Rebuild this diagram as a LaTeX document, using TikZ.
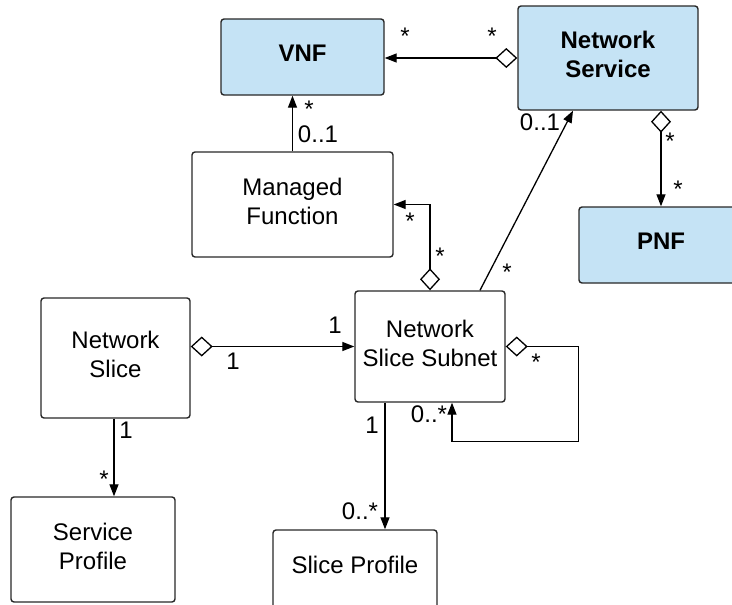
\documentclass[tikz,border=0pt]{standalone}
\usepackage{fontspec}
\setmainfont{Liberation Sans}
\usetikzlibrary{arrows.meta,calc}
\definecolor{boxblue}{RGB}{197,227,245}
\definecolor{edge}{RGB}{40,40,40}
\begin{document}
\begin{tikzpicture}[x=1pt,y=-1pt,
  font=\fontsize{24}{29}\selectfont,
  cls/.style={draw=edge,line width=1.4pt,rounded corners=3pt,fill=white,inner sep=0pt},
  blue/.style={cls,fill=boxblue},
  txt/.style={align=center,inner sep=0pt,yshift=3.5pt,font=\fontsize{24}{29}\selectfont},
  btxt/.style={txt,font=\fontsize{24}{29}\selectfont\bfseries},
  arr/.style={line width=1.3pt,-{Triangle[length=12pt,width=9pt]}},
  agg/.style={line width=1.3pt,{Diamond[open,length=22pt,width=20pt,fill=white]}-{Triangle[length=12pt,width=9pt]}},
  lab/.style={anchor=base,inner sep=0pt}]
\clip (0,0) rectangle (732,605);
\fill[white] (0,0) rectangle (732,605);
% classes
\node[blue,minimum width=163pt,minimum height=76pt,label={[btxt]center:VNF}] (vnf) at (302.5,57) {};
\node[blue,minimum width=180pt,minimum height=104pt,label={[btxt]center:Network\\Service}] (ns) at (608,58) {};
\node[blue,minimum width=164pt,minimum height=76pt,label={[btxt]center:PNF}] (pnf) at (661,245) {};
\node[cls,minimum width=201pt,minimum height=105pt,label={[txt]center:Managed\\Function}] (mf) at (292.5,204.5) {};
\node[cls,minimum width=150pt,minimum height=111pt,label={[txt]center:Network\\Slice Subnet}] (nss) at (430,346.5) {};
\node[cls,minimum width=149pt,minimum height=120pt,label={[txt]center:Network\\Slice}] (nsl) at (115.5,358) {};
\node[cls,minimum width=164pt,minimum height=105pt,label={[txt]center:Service\\Profile}] (svp) at (93,549.5) {};
\node[cls,minimum width=164pt,minimum height=105pt] (slp) at (355,582.5) {};
\node[inner sep=0pt] (slpt) at (355,565) {Slice Profile};
% helper coordinates
\coordinate (nssA) at ($(nss.north)+(50,0)$);
\coordinate (nsA) at ($(ns.south)+(-35,0)$);
\coordinate (nsB) at ($(ns.south)+(53,0)$);
\coordinate (loopA) at ($(nss.south east)+(73,39)$);
\coordinate (loopB) at ($(nss.south)+(22,0)$);
\coordinate (nslA) at ($(nsl.south)+(-1.5,0)$);
\coordinate (nssB) at ($(nss.south)+(-45,0)$);
% connectors
\draw[agg] (ns.west) -- (ns.west -| vnf.east);
\draw[arr] (mf.north) -- (mf.north |- vnf.south);
\draw[agg] (nss.north) |- (mf.east);
\draw[arr] (nssA) -- (nsA);
\draw[agg] (nsB) -- (nsB |- pnf.north);
\draw[agg] (nss.west -| nsl.east) -- (nss.west);
\draw[agg] (nss.east) -| (loopA) -| (loopB);
\draw[arr] (nslA) -- (nslA |- svp.north);
\draw[arr] (nssB) -- (nssB |- slp.north);
% multiplicities
\node[lab] (m1) at (405,45) {*};
\node[lab] (m2) at (492,45) {*};
\node[lab] (m3) at (309,117) {*};
\node[lab] (m4) at (318,142) {0..1};
\node[lab] (m5) at (540,130) {0..1};
\node[lab] (m6) at (670,149) {*};
\node[lab] (m7) at (678,197) {*};
\node[lab] (m8) at (507,280) {*};
\node[lab] (m9) at (410,229) {*};
\node[lab] (m10) at (440,264) {*};
\node[lab] (m11) at (233,369) {1};
\node[lab] (m12) at (335,333) {1};
\node[lab] (m13) at (126,438) {1};
\node[lab] (m14) at (104,487) {*};
\node[lab] (m15) at (536,370) {*};
\node[lab] (m16) at (429,422) {0..*};
\node[lab] (m17) at (372,433) {1};
\node[lab] (m18) at (360,519) {0..*};
\end{tikzpicture}
\end{document}
